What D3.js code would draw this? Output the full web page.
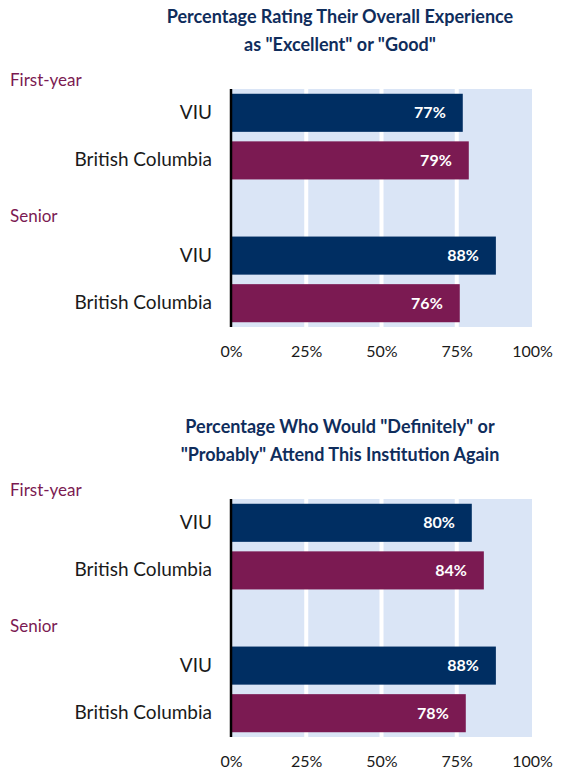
<!DOCTYPE html>
<html>
<head>
<meta charset="utf-8">
<script src="https://cdn.jsdelivr.net/npm/d3@7"></script>
<style>
  body { margin: 0; background: #fff; }
  text { font-family: Lato, "Open Sans", sans-serif; }
</style>
</head>
<body>
<script>
// Chart data
var groups = ["First-year", "Senior"];
var rowLabels = ["VIU", "British Columbia"];
var rowKeys = ["fy-VIU", "fy-BC", "gap", "sr-VIU", "sr-BC"];
var experienceValues = [77, 79, 88, 76];
var attendValues = [80, 84, 88, 78];
var tickValues = [0, 25, 50, 75, 100];
var experienceTitle = ["Percentage Rating Their Overall Experience", "as \"Excellent\" or \"Good\""];
var attendTitle = ["Percentage Who Would \"Definitely\" or", "\"Probably\" Attend This Institution Again"];

var width = 578;
var height = 770;
var navy = "#002e62";
var purple = "#7b1a52";

var svg = d3.select("body").append("svg")
  .attr("width", width)
  .attr("height", height);

var xScale = d3.scaleLinear().domain([0, 100]).range([231, 532]);

function drawChart(offsetY, title, values) {
  var g = svg.append("g").attr("transform", "translate(0," + offsetY + ")");

  // Title
  g.selectAll(".title")
    .data(title)
    .enter()
    .append("text")
    .attr("x", 340)
    .attr("y", function(d, i) { return 23 + i * 28; })
    .attr("text-anchor", "middle")
    .style("font-weight", "bold")
    .style("font-size", "18px")
    .style("fill", "#0f2d5c")
    .text(function(d) { return d; });

  var yScale = d3.scaleBand()
    .domain(rowKeys)
    .range([89, 327])
    .paddingInner(0.2)
    .paddingOuter(0.1);

  // Plot background and gridlines
  g.append("rect")
    .attr("x", xScale(0))
    .attr("y", 89)
    .attr("width", xScale(100) - xScale(0))
    .attr("height", 327 - 89)
    .style("fill", "#dae5f6");

  g.selectAll(".grid")
    .data(tickValues.slice(1, 4))
    .enter()
    .append("line")
    .attr("x1", function(d) { return xScale(d); })
    .attr("x2", function(d) { return xScale(d); })
    .attr("y1", 89)
    .attr("y2", 327)
    .style("stroke", "#fff")
    .style("stroke-width", 4);

  // Bars
  var rows = ["fy-VIU", "fy-BC", "sr-VIU", "sr-BC"];
  var data = values.map(function(v, i) {
    return { key: rows[i], value: v, color: i % 2 == 0 ? navy : purple };
  });

  g.selectAll(".bar")
    .data(data)
    .enter()
    .append("rect")
    .attr("x", xScale(0))
    .attr("y", function(d) { return yScale(d.key); })
    .attr("width", function(d) { return xScale(d.value) - xScale(0); })
    .attr("height", yScale.bandwidth())
    .style("fill", function(d) { return d.color; });

  g.selectAll(".value")
    .data(data)
    .enter()
    .append("text")
    .attr("x", function(d) { return xScale(d.value) - 17; })
    .attr("y", function(d) { return yScale(d.key) + yScale.bandwidth() / 2; })
    .attr("dy", "0.35em")
    .attr("text-anchor", "end")
    .style("fill", "#fff")
    .style("font-weight", "bold")
    .style("font-size", "16px")
    .text(function(d) { return d.value + "%"; });

  // Y axis with category labels
  var labelMap = {"fy-VIU": rowLabels[0], "fy-BC": rowLabels[1], "gap": "",
                  "sr-VIU": rowLabels[0], "sr-BC": rowLabels[1]};
  var yAxis = d3.axisLeft(yScale)
    .tickSize(0)
    .tickPadding(19)
    .tickFormat(function(d) { return labelMap[d]; });

  var ya = g.append("g")
    .attr("transform", "translate(" + xScale(0) + ",0)")
    .call(yAxis);
  ya.select(".domain")
    .attr("d", "M0,89V327")
    .style("stroke", "#000")
    .style("stroke-width", 2.5);
  ya.selectAll("text")
    .style("font-size", "19px")
    .style("fill", "#1a1a1a")
    .style("font-family", "Lato, sans-serif");

  // X axis
  var xAxis = d3.axisBottom(xScale)
    .tickValues(tickValues)
    .tickSize(0)
    .tickPadding(19)
    .tickFormat(function(d) { return d + "%"; });

  var xa = g.append("g")
    .attr("transform", "translate(0,327)")
    .call(xAxis);
  xa.select(".domain").remove();
  xa.selectAll("text")
    .style("font-size", "16px")
    .style("fill", "#1a1a1a")
    .style("font-family", "Lato, sans-serif");

  // Group labels
  g.selectAll(".group")
    .data(groups)
    .enter()
    .append("text")
    .attr("x", 10)
    .attr("y", function(d, i) { return i == 0 ? 86 : 222; })
    .style("fill", purple)
    .style("font-size", "17px")
    .text(function(d) { return d; });
}

drawChart(0, experienceTitle, experienceValues);
drawChart(410, attendTitle, attendValues);
</script>
</body>
</html>
